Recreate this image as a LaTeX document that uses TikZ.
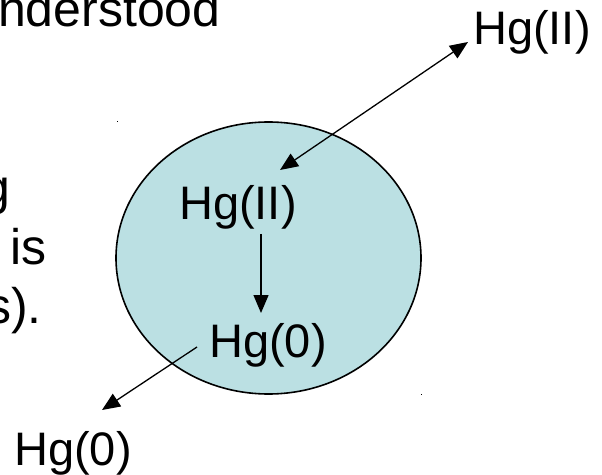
\documentclass[tikz,border=0pt]{standalone}
\usepackage{fontspec}
\setmainfont{Liberation Sans}
\usetikzlibrary{arrows.meta}

\definecolor{cellblue}{RGB}{187,224,227}

\tikzset{
    bodytext/.style={anchor=base west, inner sep=0pt, font=\fontsize{50bp}{58bp}\selectfont},
    species/.style={anchor=base west, inner sep=0pt, font=\fontsize{47bp}{56bp}\selectfont},
    fluxtip/.tip={Triangle[length=18bp, width=15bp]},
    flux/.style={line width=1.3bp, -{fluxtip}}
}

\begin{document}
\begin{tikzpicture}[x=1bp, y=-1bp]
    \useasboundingbox (0,0) rectangle (602,475);
    \clip (0,0) rectangle (602,475);

    % Cut-off slide text on the left
    \node[bodytext] (line1) at (-2,27) {nderstood};
    \node[bodytext] (line4) at (-17.5,205) {g};
    \node[bodytext] (line5) at (10,265) {is};
    \node[bodytext] (line6) at (-14,323) {s).};

    % Cell
    \draw[fill=cellblue, line width=1.6bp] (268.5,258) ellipse [x radius=152.5, y radius=136];
    \fill (116.5,121.5) rectangle +(1,1);
    \fill (420.5,393.5) rectangle +(1,1);

    % Mercury species
    \node[species] (hgout) at (473,45) {Hg(II)};
    \node[species] (hgin) at (179,220) {Hg(II)};
    \node[species] (hgred) at (209,357) {Hg(0)};
    \node[species] (hgloss) at (14,465) {Hg(0)};

    % Arrow ends
    \coordinate (uptakein) at (280,170);
    \coordinate (uptakeout) at (468,42);
    \coordinate (redtop) at (261,234);
    \coordinate (redbot) at (261,313);
    \coordinate (lossin) at (197,347);
    \coordinate (lossout) at (102,410);

    % Fluxes
    \draw[flux, {fluxtip}-{fluxtip}] (uptakein) -- (uptakeout);
    \draw[flux] (redtop) -- (redbot);
    \draw[flux] (lossin) -- (lossout);

\end{tikzpicture}
\end{document}
